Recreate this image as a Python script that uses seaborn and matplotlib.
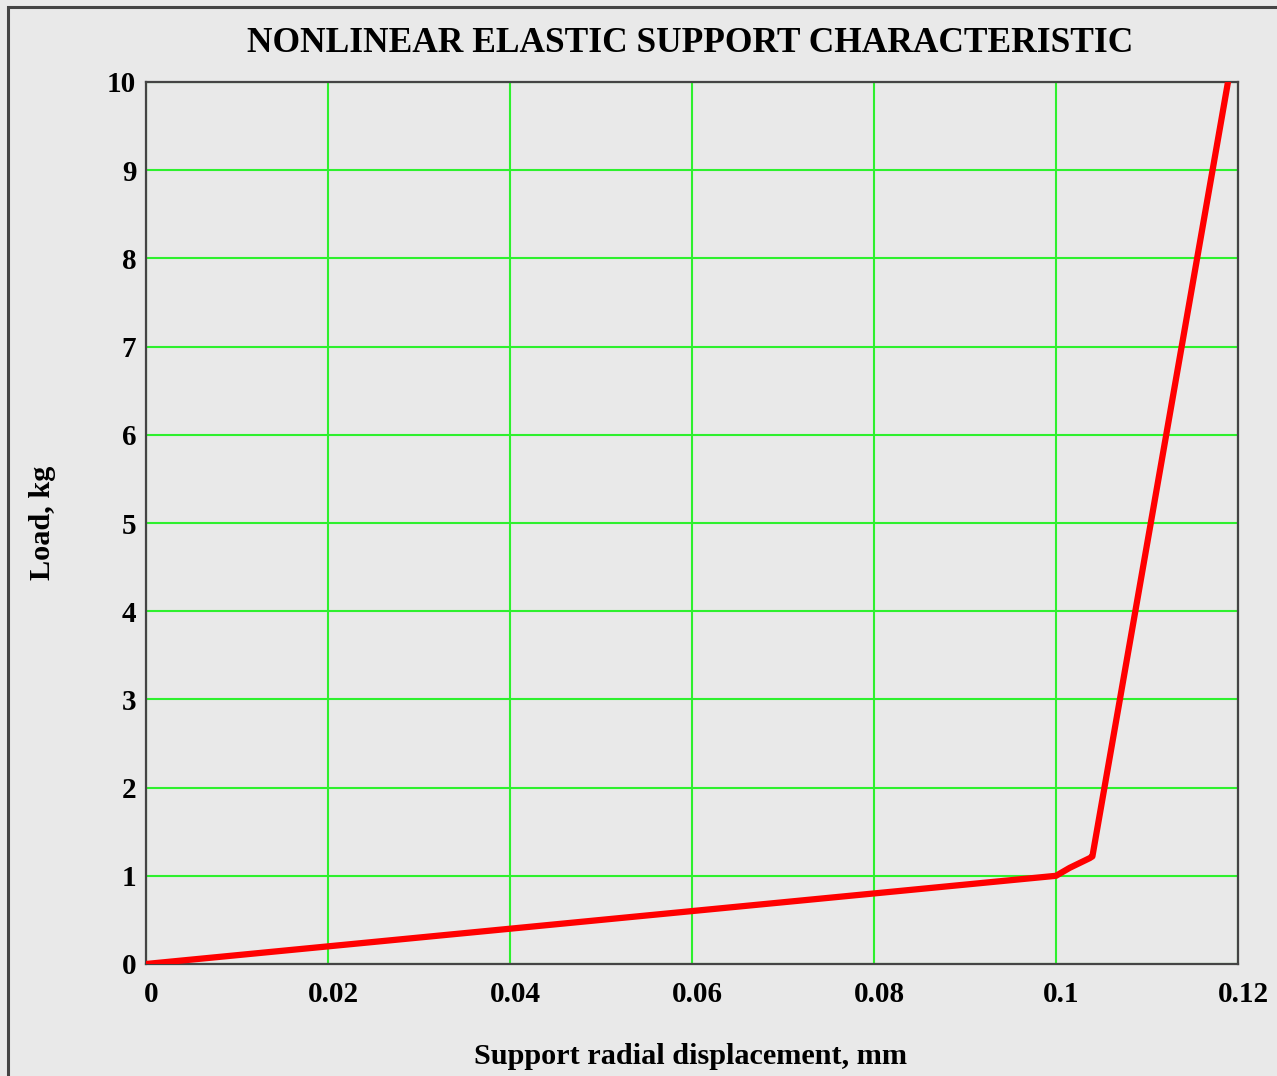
import matplotlib
matplotlib.use("Agg")
import matplotlib.pyplot as plt
import matplotlib.transforms as mtransforms
from matplotlib.patches import Rectangle
import seaborn as sns
import pandas as pd

# Data
displacement_mm = [0.0, 0.1, 0.1015, 0.1029, 0.1037, 0.1040, 0.1189]
load_kg = [0.0, 1.0, 1.09, 1.16, 1.20, 1.22, 10.0]
x_ticks = [0, 0.02, 0.04, 0.06, 0.08, 0.1, 0.12]
x_tick_labels = ["0", "0.02", "0.04", "0.06", "0.08", "0.1", "0.12"]
y_ticks = list(range(0, 11))
y_tick_labels = [str(v) for v in y_ticks]

title = "NONLINEAR ELASTIC SUPPORT CHARACTERISTIC"
x_label = "Support radial displacement, mm"
y_label = "Load, kg"

BG = "#e9e9e9"
sns.set_style("white")
plt.rcParams["font.family"] = ["Liberation Serif", "DejaVu Serif"]
plt.rcParams["font.weight"] = "bold"
plt.rcParams["text.color"] = "black"

df = pd.DataFrame({"x": displacement_mm, "y": load_kg})

fig = plt.figure(figsize=(12.77, 10.76), dpi=100, facecolor=BG)
ax = fig.add_axes([146 / 1277, 112 / 1076, (1238 - 146) / 1277, (964 - 82) / 1076])
ax.set_facecolor(BG)

# outer frame (extends beyond right/bottom edges as in reference)
fig.patches.append(Rectangle((8 / 1277, -0.05), 1.1, (1076 - 7) / 1076 + 0.05,
                             transform=fig.transFigure, fill=False,
                             edgecolor="#444444", linewidth=2.2, zorder=0))

ax.set_xlim(0, 0.12)
ax.set_ylim(0, 10)
ax.set_xticks(x_ticks)
ax.set_xticklabels(x_tick_labels)
ax.set_yticks(y_ticks)
ax.set_yticklabels(y_tick_labels)
ax.grid(True, color="#2ef02e", linewidth=1.5)
ax.set_axisbelow(True)

sns.lineplot(data=df, x="x", y="y", sort=False, color="#ff0000",
             linewidth=4.5, ax=ax, zorder=3, clip_on=True)

for s in ax.spines.values():
    s.set_color("#444444")
    s.set_linewidth(1.6)
    s.set_visible(True)

ax.tick_params(axis="both", length=0, labelsize=21, colors="black")
ax.tick_params(axis="x", pad=12)
ax.tick_params(axis="y", pad=7)
offset = mtransforms.ScaledTranslation(5 / 100, 0, fig.dpi_scale_trans)
for lbl in ax.get_xticklabels():
    lbl.set_transform(lbl.get_transform() + offset)
    lbl.set_fontweight("bold")
for lbl in ax.get_yticklabels():
    lbl.set_fontweight("bold")

ax.set_xlabel("")
ax.set_ylabel("")
fig.text(690 / 1277, 1 - 1057 / 1076, x_label, ha="center", va="center",
         fontsize=21.8, fontweight="bold", color="black")
fig.text(42 / 1277, 1 - 523 / 1076, y_label, ha="center", va="center",
         rotation=90, fontsize=21.8, fontweight="bold", color="black")
fig.text((245 + 1135) / 2 / 1277, 1 - 43 / 1076, title, ha="center", va="center",
         fontsize=25.5, fontweight="bold", color="black")

fig.savefig("out.png", dpi=100, facecolor=BG)
